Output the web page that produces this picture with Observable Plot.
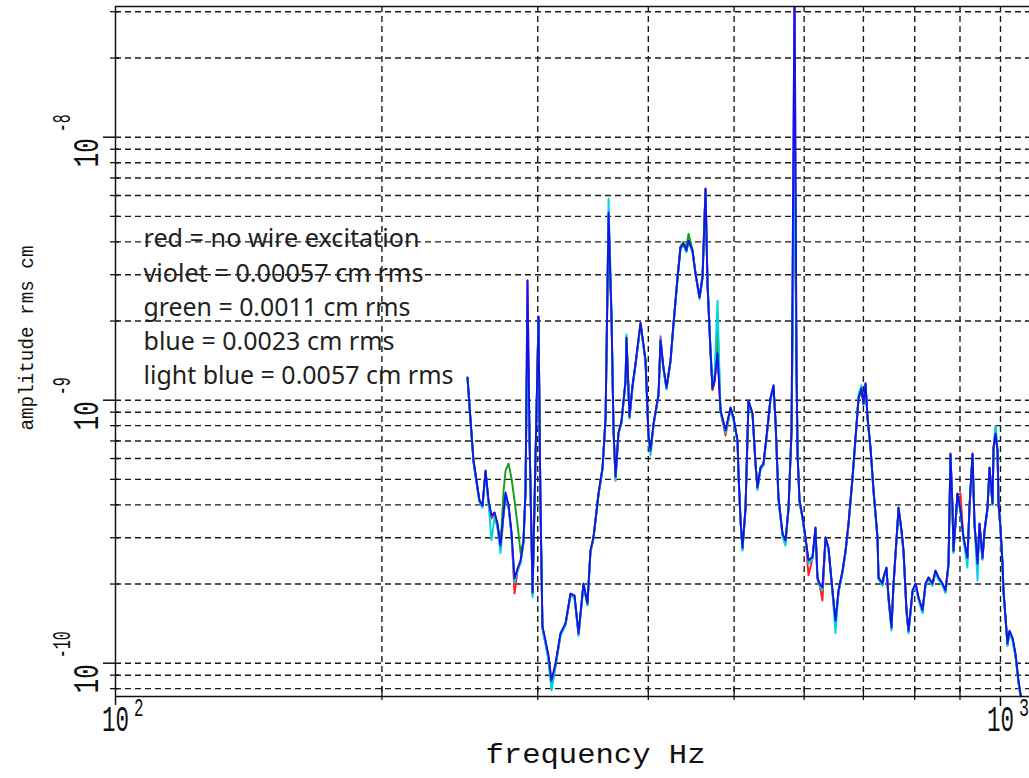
<!DOCTYPE html>
<html><head><meta charset="utf-8">
<script src="https://cdn.jsdelivr.net/npm/d3@7"></script>
<script src="https://cdn.jsdelivr.net/npm/@observablehq/plot@0.6"></script>
<style>html,body{margin:0;padding:0;background:#fff;overflow:hidden}#chart{width:1029px;height:778px;overflow:hidden}</style>
</head><body><div id="chart"></div>
<script>
// frequency (Hz)
const freqHz = [249.9,251.9,253.8,255.8,257.8,259.8,261.9,263.9,266.0,268.1,
270.1,272.3,274.5,275.9,278.1,280.2,282.4,284.7,286.9,289.1,
290.6,292.1,293.7,296.0,298.2,300.6,302.1,303.7,306.1,308.5,
310.9,314.2,318.3,322.5,326.7,330.1,333.6,337.9,341.4,344.1,
346.8,351.4,355.1,357.9,360.7,363.5,365.4,367.3,370.1,373.0,
377.0,377.9,380.9,383.9,386.9,392.0,397.1,400.2,402.3,405.5,
410.8,412.9,416.1,419.4,423.8,427.1,431.6,434.9,438.3,441.7,
444.1,448.7,452.3,457.0,460.6,464.2,466.6,470.2,472.7,475.2,
478.9,482.7,489.0,495.4,499.2,504.5,505.8,508.5,511.1,515.1,
519.1,524.6,528.7,531.4,535.6,539.7,545.4,549.7,554.0,556.9,
561.2,567.2,571.6,576.1,580.6,585.2,588.2,589.8,592.8,597.4,
602.1,606.8,613.2,617.9,621.1,624.4,629.3,634.3,639.2,645.9,
651.0,656.1,663.0,668.2,673.4,680.4,685.8,691.2,696.6,700.2,
703.9,707.6,713.1,718.7,726.2,728.1,735.7,737.5,743.3,747.3,
753.1,757.1,765.0,767.0,773.0,777.0,783.1,787.2,795.5,801.7,
808.0,816.4,822.8,829.2,837.8,844.4,851.1,860.0,866.7,873.5,
878.0,882.6,884.9,894.2,901.2,908.2,917.6,922.4,929.8,934.6,
942.0,946.9,954.3,959.3,966.8,971.9,979.5,982.1,987.2,992.3,
994.9,1000.0,1005.3,1007.9,1018.4,1023.7,1031.7,1039.7,1047.9,1056.2];

// amplitudes in units of 1e-10 cm rms
const AMP_UNIT = 1e-10;
const redAmp = [12.1,8.30,5.85,4.90,4.10,3.94,5.33,4.10,3.55,3.66,
3.30,2.72,3.66,4.38,3.90,3.08,1.84,2.25,2.42,2.88,
4.48,19.0,6.95,1.82,5.82,20.3,4.10,1.36,1.19,1.04,
0.82,0.98,1.28,1.40,1.82,1.79,1.28,1.98,1.66,2.64,
2.98,4.36,5.48,8.50,49.0,20.2,7.55,4.95,7.45,8.20,
11.7,17.1,8.55,11.2,13.6,19.4,14.0,7.25,6.35,8.08,
10.4,16.7,13.1,11.0,14.0,19.4,29.0,37.8,39.0,36.8,
40.2,36.8,30.1,24.4,29.1,62.5,27.5,15.3,10.9,11.7,
16.0,9.00,7.34,9.25,8.48,6.95,5.20,3.45,2.70,3.86,
9.85,8.80,5.66,4.60,5.48,5.66,7.78,10.1,11.2,8.28,
4.20,3.06,2.88,3.86,7.58,80.0,13.1,6.18,4.10,3.56,
2.96,2.16,2.50,3.24,2.09,1.98,1.73,2.97,2.71,1.86,
1.42,1.86,2.22,2.64,3.36,5.02,7.14,10.1,11.0,9.62,
11.5,8.50,6.54,4.48,2.97,2.09,1.98,2.09,2.28,1.75,
1.35,1.98,3.36,3.86,3.16,2.64,1.56,1.31,1.86,1.98,
1.75,1.56,1.98,2.09,1.98,2.22,2.09,1.98,1.86,2.35,
6.18,3.86,2.64,4.36,4.42,2.97,2.48,3.86,6.18,3.36,
2.35,3.36,2.48,3.16,3.86,5.48,4.00,6.54,7.40,6.35,
4.00,3.24,2.35,1.86,1.17,1.31,1.23,1.07,0.845,0.71];

const violetAmp = [12.2,8.35,5.88,4.93,4.15,3.97,5.38,4.15,3.62,3.73,
3.38,2.90,3.73,4.26,3.97,3.12,2.08,2.28,2.45,2.92,
4.52,28.5,7.01,1.85,5.88,20.7,4.15,1.37,1.21,1.06,
0.85,0.99,1.29,1.41,1.83,1.80,1.29,2.00,1.68,2.67,
3.00,4.40,5.53,8.57,50.0,20.5,7.64,5.11,7.52,8.27,
11.8,17.2,8.64,11.3,13.7,19.6,14.1,7.31,6.41,8.13,
10.5,17.5,13.2,11.1,14.1,19.5,29.2,38.0,39.2,37.0,
40.3,37.0,30.2,24.5,30.5,63.5,27.7,15.4,11.0,11.8,
15.0,9.10,7.63,9.34,8.57,7.00,5.24,3.47,2.73,3.89,
9.93,8.87,5.72,4.64,5.53,5.72,7.84,10.2,11.3,8.34,
4.25,3.10,2.91,3.89,7.64,394,13.2,6.24,4.14,3.60,
3.00,2.45,2.53,3.27,2.11,2.00,1.93,3.00,2.74,1.88,
1.44,1.88,2.24,2.67,3.39,5.06,7.18,10.2,11.0,9.67,
11.5,8.57,6.58,4.52,3.00,2.11,2.00,2.11,2.30,1.77,
1.36,2.00,3.39,3.90,3.19,2.67,1.58,1.32,1.88,2.00,
1.77,1.58,2.00,2.11,2.00,2.24,2.11,2.00,1.88,2.38,
6.24,3.90,2.67,4.40,3.80,3.00,2.51,3.90,6.24,3.39,
2.38,3.39,2.51,3.19,3.90,5.53,4.04,6.58,7.44,6.41,
4.04,3.27,2.38,1.88,1.18,1.32,1.24,1.08,0.855,0.718];

const greenAmp = [12.1,8.35,5.88,4.92,4.14,3.96,5.36,4.14,3.62,3.72,
3.38,2.78,4.54,5.40,5.74,5.04,4.16,3.34,2.62,2.90,
4.50,20.0,7.00,1.84,5.85,20.5,4.14,1.37,1.20,1.05,
0.80,0.98,1.29,1.41,1.83,1.80,1.29,2.00,1.68,2.66,
3.00,4.40,5.52,8.55,50.5,20.4,7.62,5.10,7.50,8.26,
11.8,17.2,8.62,11.3,13.7,19.6,14.1,7.30,6.40,8.12,
10.5,16.8,13.2,11.1,14.1,19.5,29.2,38.4,40.0,38.0,
43.0,37.4,30.4,24.8,29.4,63.0,27.6,15.4,11.0,11.8,
20.0,9.10,7.62,9.33,8.55,6.98,5.22,3.46,2.72,3.88,
9.90,8.85,5.70,4.63,5.52,5.70,7.82,10.1,11.3,8.32,
4.24,3.09,2.90,3.88,7.62,100,13.2,6.22,4.14,3.59,
2.99,2.44,2.52,3.26,2.11,2.00,1.93,2.99,2.73,1.88,
1.43,1.88,2.24,2.66,3.38,5.05,7.17,10.1,11.0,9.65,
11.5,8.55,6.57,4.52,2.99,2.11,2.00,2.11,2.30,1.77,
1.36,2.00,3.38,3.89,3.18,2.66,1.58,1.32,1.88,2.00,
1.77,1.58,2.00,2.11,2.00,2.24,2.11,2.00,1.88,2.37,
6.22,3.89,2.66,4.40,3.79,2.99,2.50,3.89,6.22,3.38,
2.37,3.38,2.50,3.18,3.89,5.52,4.03,6.57,7.94,6.40,
4.03,3.26,2.37,1.88,1.18,1.32,1.24,1.08,0.85,0.715];

const blueAmp = [12.2,8.37,5.90,4.95,4.16,3.98,5.40,4.16,3.64,3.74,
3.40,2.80,3.74,4.46,3.98,3.14,2.10,2.29,2.46,2.93,
4.54,28.5,7.03,1.86,5.90,20.8,4.16,1.38,1.22,1.07,
0.859,0.997,1.30,1.42,1.84,1.81,1.30,2.01,1.69,2.68,
3.01,4.42,5.55,8.60,51.7,20.6,7.67,5.13,7.54,8.30,
11.9,17.3,8.67,11.4,13.8,19.7,14.2,7.34,6.44,8.16,
10.6,16.9,13.3,11.2,14.2,19.6,29.3,38.1,39.4,37.1,
40.5,37.1,30.3,24.6,29.3,63.8,27.8,15.5,11.1,11.9,
15.1,9.14,7.67,9.38,8.60,7.03,5.26,3.49,2.75,3.91,
9.97,8.90,5.74,4.66,5.55,5.74,7.87,10.2,11.4,8.37,
4.27,3.11,2.93,3.91,7.67,394,13.3,6.27,4.16,3.61,
3.01,2.46,2.54,3.28,2.12,2.01,1.94,3.01,2.75,1.89,
1.45,1.89,2.25,2.68,3.40,5.08,7.21,10.2,11.1,9.71,
11.6,8.60,6.61,4.54,3.01,2.12,2.01,2.12,2.31,1.78,
1.37,2.01,3.40,3.91,3.20,2.68,1.59,1.33,1.89,2.01,
1.78,1.59,2.01,2.12,2.01,2.25,2.12,2.01,1.89,2.39,
6.27,3.91,2.68,4.42,3.81,3.01,2.52,3.91,6.27,3.40,
2.39,3.40,2.52,3.20,3.91,5.55,4.05,6.61,7.47,6.44,
4.05,3.28,2.39,1.89,1.19,1.33,1.25,1.09,0.859,0.721];

const lightBlueAmp = [12.0,8.30,5.80,4.80,4.10,3.90,5.30,4.05,2.93,3.60,
3.30,2.62,3.70,4.40,3.90,3.05,2.02,2.25,2.40,2.90,
4.50,18.4,6.90,1.78,5.80,20.0,4.10,1.35,1.18,1.03,
0.787,0.97,1.27,1.40,1.80,1.78,1.27,1.97,1.66,2.64,
2.98,4.38,5.50,8.70,58.5,21.0,7.50,4.95,7.40,8.20,
11.7,17.8,8.50,11.2,13.6,19.4,14.0,7.10,6.16,8.00,
10.4,16.6,13.1,11.0,14.0,19.3,29.0,37.5,38.8,36.5,
40.0,36.6,30.0,24.2,29.0,62.0,28.5,16.0,11.6,12.5,
23.9,9.00,7.50,9.20,8.45,6.90,5.15,3.40,2.68,3.85,
9.80,8.75,5.60,4.55,5.45,5.65,7.75,10.0,11.2,8.20,
4.15,3.02,2.80,3.85,7.50,97.2,13.0,6.15,4.10,3.55,
2.95,2.40,2.48,3.22,2.08,1.97,1.90,2.95,2.70,1.84,
1.30,1.85,2.20,2.64,3.35,5.00,7.10,10.6,11.4,9.60,
11.4,8.50,6.50,4.45,2.95,2.08,1.97,2.08,2.27,1.74,
1.33,1.97,3.34,3.85,3.15,2.62,1.55,1.30,1.85,1.97,
1.74,1.55,1.97,2.08,1.97,2.20,2.08,1.97,1.85,2.34,
6.10,3.85,2.62,4.35,3.75,2.95,2.31,3.85,6.10,3.34,
2.06,3.34,2.47,3.15,3.85,5.45,4.00,6.55,7.94,6.50,
4.00,3.22,2.34,1.85,1.16,1.30,1.22,1.06,0.84,0.70];

const seriesNames = ["red", "violet", "green", "light blue", "blue"]; // draw order
const seriesAmps = [redAmp, violetAmp, greenAmp, lightBlueAmp, blueAmp];
const seriesColors = ["#ff1f1f", "#b03cd0", "#12a012", "#00d4e0", "#1414e8"];

const legendLines = ["red = no wire excitation", "violet = 0.00057 cm rms", "green = 0.0011 cm rms", "blue = 0.0023 cm rms", "light blue = 0.0057 cm rms"];
const xTitle = "frequency Hz";
const yTitle = "amplitude rms cm";

const xMajorTicks = [100, 1000];
const xGridTicks = [200, 300, 400, 500, 600, 700, 800, 900, 1000];
const yMajorTicks = [1e-10, 1e-9, 1e-8];
const yMinorTicks = [8e-11, 9e-11, 2e-10, 3e-10, 4e-10, 5e-10, 6e-10, 7e-10, 8e-10, 9e-10,
  2e-9, 3e-9, 4e-9, 5e-9, 6e-9, 7e-9, 8e-9, 9e-9, 2e-8, 3e-8];
const xDomain = [100, 1078.4];
const yDomain = [7.47e-11, 3.14e-8];

const rows = seriesNames.flatMap((s, k) => freqHz.map((f, i) => ({s, f, a: seriesAmps[k][i] * AMP_UNIT})));

const tickFont = "Liberation Mono";
const gridStyle = {stroke: "#1a1a1a", strokeWidth: 1.4, strokeDasharray: "6,4"};
const expText = d => String(Math.round(Math.log10(d)));

const marks = [
  Plot.ruleY(yMinorTicks.concat(yMajorTicks), gridStyle),
  Plot.ruleX(xGridTicks, gridStyle),
  Plot.line(rows, {x: "f", y: "a", z: "s", stroke: "s", strokeWidth: 1.9, strokeLinejoin: "round", clip: true}),
  // frame
  Plot.ruleY([yDomain[0]], {stroke: "#111", strokeWidth: 1.5}),
  Plot.ruleY([yDomain[1]], {stroke: "#111", strokeWidth: 1.5}),
  Plot.ruleX([xDomain[0]], {stroke: "#111", strokeWidth: 1.5, insetBottom: -9}),
  // ticks
  Plot.ruleY(yMinorTicks, {x1: xDomain[0], x2: xDomain[0], insetLeft: 4, insetRight: 5, stroke: "#111", strokeWidth: 1.3}),
  Plot.ruleY(yMajorTicks, {x1: xDomain[0], x2: xDomain[0], insetLeft: 0, insetRight: 12, stroke: "#111", strokeWidth: 1.5}),
  Plot.ruleX(xGridTicks.slice(0, 8), {y1: yDomain[0], y2: yDomain[0], insetTop: 4, insetBottom: 9, stroke: "#111", strokeWidth: 1.3}),
  Plot.ruleX([1000], {y1: yDomain[0], y2: yDomain[0], insetTop: 10, insetBottom: 0, stroke: "#111", strokeWidth: 1.5}),
  // tick labels
  Plot.text(xMajorTicks, {x: d => d, frameAnchor: "bottom", text: () => "10", textAnchor: "start", dx: -13.5, dy: 34, fontSize: 36, fontFamily: tickFont, fill: "#111"}),
  Plot.text(xMajorTicks, {x: d => d, frameAnchor: "bottom", text: expText, dx: 18.5, dy: 19, textAnchor: "start", fontSize: 26, fontFamily: tickFont, fill: "#111"}),
  Plot.text(yMajorTicks, {y: d => d, frameAnchor: "left", text: () => "10", rotate: -90, textAnchor: "start", dx: -29, dy: 30, fontSize: 36, fontFamily: tickFont, fill: "#111"}),
  Plot.text(yMajorTicks, {y: d => d, frameAnchor: "left", text: expText, rotate: -90, textAnchor: "start", dx: -53.5, dy: -5, fontSize: 26, fontFamily: tickFont, fill: "#111"}),
  // axis titles
  Plot.text([xTitle], {frameAnchor: "bottom", text: d => d, textAnchor: "start", dx: -87, dy: 66, fontSize: 28, fontFamily: tickFont, fill: "#111"}),
  Plot.text([yTitle], {frameAnchor: "left", text: d => d, rotate: -90, textAnchor: "start", dx: -89, dy: 79, fontSize: 21, fontFamily: tickFont, fill: "#111"}),
  // in-plot legend
  ...legendLines.map((t, i) => Plot.text([t], {frameAnchor: "top-left", text: d => d, textAnchor: "start", dx: 28, dy: 223 + i * 34.25, fontSize: 25, fontFamily: "Noto Sans", fill: "#231f20"}))
];

const chart = Plot.plot({
  width: 1029, height: 778,
  marginLeft: 115, marginRight: 0, marginTop: 6, marginBottom: 82,
  x: {type: "log", domain: xDomain, axis: null},
  y: {type: "log", domain: yDomain, axis: null},
  color: {domain: seriesNames, range: seriesColors},
  style: {background: "white", overflow: "hidden"},
  marks
});
document.getElementById("chart").appendChild(chart);

// condense the stroke-font style labels to the widths seen in the reference
const widths = {"10": null, "2": 9.5, "3": 10, "-8": 18, "-9": 18, "-10": 27,
  "frequency Hz": 220, "amplitude rms cm": 185,
  "red = no wire excitation": 276, "violet = 0.00057 cm rms": 280, "green = 0.0011 cm rms": 267,
  "blue = 0.0023 cm rms": 251, "light blue = 0.0057 cm rms": 310};
chart.querySelectorAll("text").forEach(t => {
  const s = t.textContent;
  if (!(s in widths)) return;
  let w = widths[s];
  if (s === "10") w = (t.getAttribute("transform") || "").includes("rotate") ? 29 : 27;
  t.setAttribute("textLength", w);
  t.setAttribute("lengthAdjust", "spacingAndGlyphs");
});
</script>
</body></html>
